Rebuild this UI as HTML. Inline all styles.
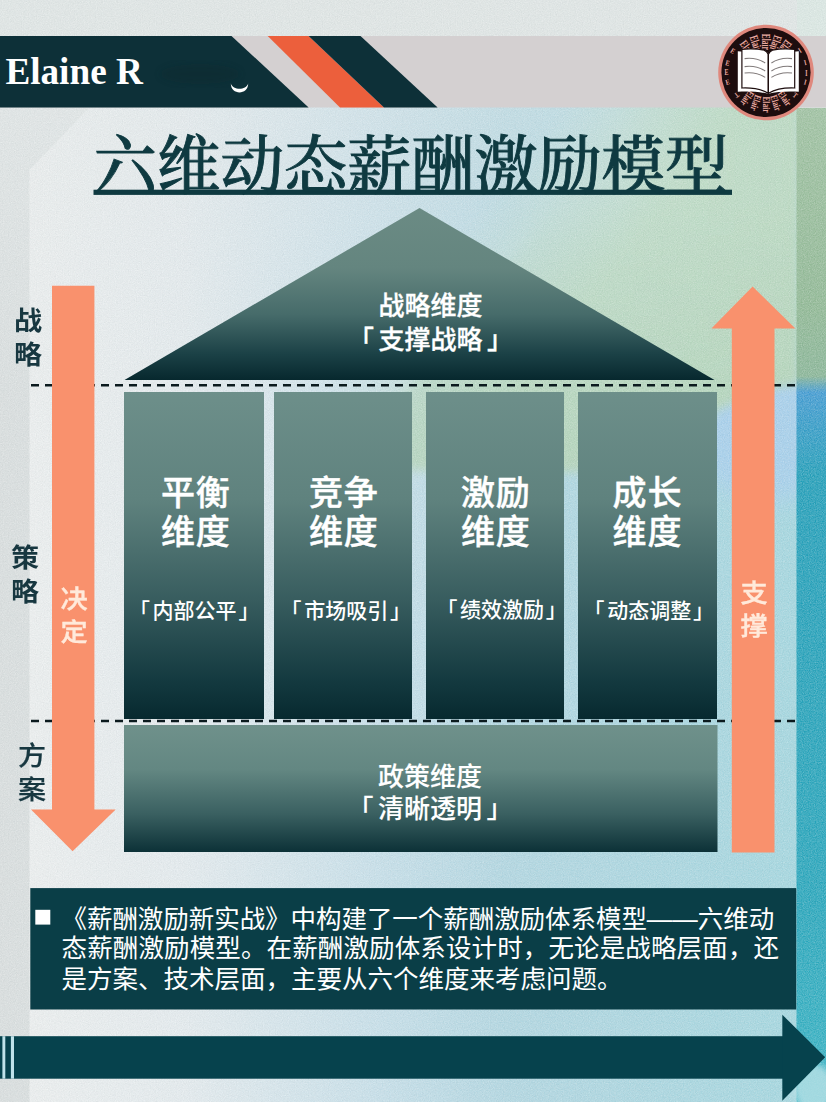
<!DOCTYPE html>
<html lang="zh-CN">
<head>
<meta charset="utf-8">
<title>六维动态薪酬激励模型</title>
<style>
html,body{margin:0;padding:0;}
body{width:826px;height:1102px;overflow:hidden;background:#dde2e2;position:relative;
  font-family:"Liberation Sans","Noto Sans CJK SC",sans-serif;}
#art{position:absolute;left:0;top:0;width:826px;height:1102px;display:block;}
.t{position:absolute;white-space:nowrap;margin:0;padding:0;line-height:1;}
.sans{font-family:"Liberation Sans","Noto Sans CJK SC",sans-serif;}
.serif{font-family:"Liberation Serif","Noto Serif CJK SC",serif;}
#brand{left:5.4px;top:52.6px;font-size:37.2px;font-weight:700;color:#fff;}
#title{left:93.5px;top:134.5px;font-size:63.5px;font-weight:500;color:#0f3a41;-webkit-text-stroke:0.9px #0f3a41;}
.side{transform:scaleX(1.08);font-size:26px;font-weight:700;color:#173740;line-height:34.3px;text-align:center;width:30px;}
.arrowtxt{transform:scaleX(1.08);font-size:25.2px;font-weight:500;-webkit-text-stroke:0.35px #ffeadb;color:#ffeadb;line-height:33.6px;text-align:center;width:30px;}
.big{font-size:34px;letter-spacing:0.8px;font-weight:500;-webkit-text-stroke:0.4px #fff;color:#fff;line-height:39px;text-align:center;width:140px;}
.small{font-size:21px;font-weight:500;color:#fff;text-align:center;}
.mid{font-size:26px;font-weight:500;-webkit-text-stroke:0.3px #fff;color:#fff;line-height:32px;text-align:center;width:200px;}
#para{left:61.5px;top:903px;font-size:25.5px;line-height:30.4px;color:#fff;font-weight:400;white-space:nowrap;}
.bl{letter-spacing:2.6px;}.br{margin-left:1.8px;}
.mid .bl{letter-spacing:4.6px;}.mid .br{margin-left:4.6px;}
</style>
</head>
<body>
<svg id="art" width="826" height="1102" viewBox="0 0 826 1102">
  <defs>
    <linearGradient id="bgH" x1="0" y1="0" x2="1" y2="0">
      <stop offset="0" stop-color="#d9dede"/>
      <stop offset="0.35" stop-color="#dde4e6"/>
      <stop offset="0.7" stop-color="#bfe0e6"/>
      <stop offset="1" stop-color="#a3d8df"/>
    </linearGradient>
    <linearGradient id="panelH" x1="0" y1="0" x2="1" y2="0">
      <stop offset="0" stop-color="#ecefef"/>
      <stop offset="0.2" stop-color="#e4ebee"/>
      <stop offset="0.45" stop-color="#c6dfe9"/>
      <stop offset="0.62" stop-color="#b0d6e1"/>
      <stop offset="1" stop-color="#a2d6df"/>
    </linearGradient>
    <linearGradient id="topFade" x1="0" y1="0" x2="0" y2="1">
      <stop offset="0" stop-color="#e3e8e8" stop-opacity="1"/>
      <stop offset="1" stop-color="#e3e8e8" stop-opacity="0"/>
    </linearGradient>
    <linearGradient id="greenH" gradientUnits="userSpaceOnUse" x1="515" y1="164" x2="625" y2="252">
      <stop offset="0" stop-color="#c6dfd0" stop-opacity="0"/>
      <stop offset="0.5" stop-color="#c4decd" stop-opacity="0.6"/>
      <stop offset="1" stop-color="#bfdcc7" stop-opacity="0.96"/>
    </linearGradient>
    <linearGradient id="greenR" gradientUnits="userSpaceOnUse" x1="620" y1="0" x2="797" y2="0">
      <stop offset="0" stop-color="#b7d8bd" stop-opacity="0"/>
      <stop offset="1" stop-color="#b7d8bd" stop-opacity="0.7"/>
    </linearGradient>
    <linearGradient id="greenV" gradientUnits="userSpaceOnUse" x1="0" y1="200" x2="0" y2="430">
      <stop offset="0" stop-color="#a9ceb0" stop-opacity="0"/>
      <stop offset="1" stop-color="#a9ceb0" stop-opacity="0.55"/>
    </linearGradient>
    <filter id="blur5" x="-20%" y="-20%" width="140%" height="140%"><feGaussianBlur stdDeviation="5"/></filter>
    <linearGradient id="roofG" x1="0" y1="0" x2="0" y2="1">
      <stop offset="0" stop-color="#6b8b84"/>
      <stop offset="0.35" stop-color="#64857f"/>
      <stop offset="0.62" stop-color="#466b6a"/>
      <stop offset="0.85" stop-color="#1b4146"/>
      <stop offset="1" stop-color="#07282e"/>
    </linearGradient>
    <linearGradient id="pillarG" x1="0" y1="0" x2="0" y2="1">
      <stop offset="0" stop-color="#6d8f8a"/>
      <stop offset="0.33" stop-color="#5f827e"/>
      <stop offset="0.64" stop-color="#375c5e"/>
      <stop offset="0.88" stop-color="#143a40"/>
      <stop offset="1" stop-color="#07292f"/>
    </linearGradient>
    <linearGradient id="baseG" x1="0" y1="0" x2="0" y2="1">
      <stop offset="0" stop-color="#6f918b"/>
      <stop offset="0.35" stop-color="#638782"/>
      <stop offset="0.7" stop-color="#3a6061"/>
      <stop offset="1" stop-color="#0c3137"/>
    </linearGradient>
    <linearGradient id="stripG" x1="0" y1="0" x2="0" y2="1">
      <stop offset="0" stop-color="#9ec1a0"/>
      <stop offset="0.2" stop-color="#8fb893"/>
      <stop offset="0.270" stop-color="#88b596"/>
      <stop offset="0.286" stop-color="#3f9ad2"/>
      <stop offset="0.37" stop-color="#1e9db8"/>
      <stop offset="0.8" stop-color="#24a5bb"/>
      <stop offset="1" stop-color="#35b3c4"/>
    </linearGradient>
    <filter id="grain" x="0" y="0" width="100%" height="100%">
      <feTurbulence type="fractalNoise" baseFrequency="0.85" numOctaves="2" seed="7" result="n"/>
      <feColorMatrix type="matrix" values="0 0 0 0 1  0 0 0 0 1  0 0 0 0 1  0.9 0.9 0.9 0 -0.95"/>
    </filter>
    <filter id="grainD" x="0" y="0" width="100%" height="100%">
      <feTurbulence type="fractalNoise" baseFrequency="0.85" numOctaves="2" seed="11" result="n"/>
      <feColorMatrix type="matrix" values="0 0 0 0 0.2  0 0 0 0 0.25  0 0 0 0 0.27  0.9 0.9 0.9 0 -0.95"/>
    </filter>
    <filter id="blur1" x="-30%" y="-30%" width="160%" height="160%"><feGaussianBlur stdDeviation="0.6"/></filter>
    <filter id="blur12" x="-20%" y="-20%" width="140%" height="140%"><feGaussianBlur stdDeviation="12"/></filter>
    <filter id="blur3" x="-20%" y="-20%" width="140%" height="140%"><feGaussianBlur stdDeviation="3"/></filter>
  </defs>

  <!-- outer background -->
  <rect x="0" y="0" width="826" height="1102" fill="url(#bgH)"/>
  <rect x="0" y="0" width="826" height="400" fill="url(#topFade)"/>
  <!-- main panel with cut corner -->
  <polygon points="29.5,170 90,107 797,107 797,1102 29.5,1102" fill="url(#panelH)"/>
  <polygon points="29.5,170 90,107 797,107 797,460 29.5,460" fill="url(#topFade)" opacity="0.3"/>
  <!-- green wash top-right -->
  <ellipse cx="775" cy="425" rx="95" ry="75" fill="#a6cdf0" opacity="0.75" filter="url(#blur12)"/>
  <g filter="url(#blur5)">
    <path d="M300,100 L800,100 L800,384 C775,386 750,396 718,410 C690,440 640,472 560,473 C500,474 440,471 380,470 L300,470 Z" fill="url(#greenH)"/>
    <path d="M600,100 L800,100 L800,384 C775,386 750,396 718,410 C690,436 650,462 600,470 Z" fill="url(#greenR)"/>
    <path d="M560,200 L800,200 L800,384 C775,386 750,396 718,410 C690,440 640,472 560,473 C500,474 440,471 400,470 L400,400 Z" fill="url(#greenV)"/>
  </g>
  <rect x="0" y="0" width="826" height="36" fill="#e0e6e5"/>
  <rect x="797" y="0" width="29" height="108" fill="#dbe8e3"/>

  <!-- right strip -->
  <rect x="796.5" y="108" width="29.5" height="994" fill="url(#stripG)"/>

  <!-- grain texture -->
  <rect x="0" y="0" width="826" height="1102" filter="url(#grain)" opacity="0.30"/>
  <rect x="0" y="0" width="826" height="1102" filter="url(#grainD)" opacity="0.10"/>

  <!-- header band -->
  <rect x="0" y="36" width="826" height="71.5" fill="#d4d0d1"/>
  <polygon points="0,36 231.5,36 308.6,107.5 0,107.5" fill="#0d3038"/>
  <polygon points="267.7,36 308.6,36 384,107.5 340,107.5" fill="#ec5f3c"/>
  <polygon points="308.6,36 360.5,36 437.6,107.5 384,107.5" fill="#0d3038"/>
  <ellipse cx="200" cy="74" rx="40" ry="10" fill="#0a252b" opacity="0.3" filter="url(#blur3)"/>
  <path d="M230.8,83.5 C231,95.4 248,95.4 248.2,83.5 C246,90.6 233,90.6 230.8,83.5 Z" fill="#ffffff" filter="url(#blur1)"/>

  <!-- title underline -->
  <rect x="93.5" y="189.7" width="638.5" height="5.2" fill="#0f3a41"/>

  <!-- roof -->
  <polygon points="419.5,208 714.5,380 124.5,380" fill="url(#roofG)"/>

  <!-- pillars -->
  <rect x="124" y="392" width="140" height="327" fill="url(#pillarG)"/>
  <rect x="274" y="392" width="138" height="327" fill="url(#pillarG)"/>
  <rect x="426" y="392" width="138" height="327" fill="url(#pillarG)"/>
  <rect x="578" y="392" width="139" height="327" fill="url(#pillarG)"/>

  <!-- base -->
  <rect x="124" y="725" width="593.5" height="127" fill="url(#baseG)"/>

  <!-- dashed lines -->
  <line x1="31" y1="385.3" x2="796" y2="385.3" stroke="#0b1a1e" stroke-width="2.4" stroke-dasharray="8 6"/>
  <line x1="31" y1="721" x2="796" y2="721" stroke="#0b1a1e" stroke-width="2.4" stroke-dasharray="8 6"/>

  <!-- arrows -->
  <polygon points="52,285.7 94.4,285.7 94.4,809.4 115.7,809.4 72.6,851.3 31,809.4 52,809.4" fill="#f9916d"/>
  <polygon points="752.6,286.5 795.4,328.4 774.5,328.4 774.5,852.5 731.8,852.5 731.8,328.4 711.4,328.4" fill="#f9916d"/>

  <!-- text box -->
  <rect x="30.3" y="888.1" width="765.9" height="121.4" fill="#0a3e47"/>
  <rect x="35.3" y="909.8" width="15" height="14.8" fill="#ffffff"/>

  <!-- bottom arrow bar -->
  <ellipse cx="814" cy="1088" rx="20" ry="24" fill="#b9e2e7" opacity="0.8" filter="url(#blur3)"/>
  <rect x="0" y="1036.2" width="790" height="42.5" fill="#06424d"/>
  <polygon points="782.3,1014.7 825.2,1057.2 782.3,1100.7" fill="#06424d"/>
  <rect x="2.4" y="1036.2" width="2.9" height="42.5" fill="#bfe2ea"/>
  <rect x="10.9" y="1036.2" width="3.1" height="42.5" fill="#bfe2ea"/>

  <!-- logo -->
  <g id="logo">
    <circle cx="766" cy="72.5" r="47.8" fill="#df887d"/>
    <circle cx="766" cy="72.5" r="44.6" fill="#1d0d0e"/>
    <g font-family="&quot;Liberation Serif&quot;, serif" font-size="12" font-weight="700" fill="#ebaaa0"><text transform="rotate(-37 766 72.5) translate(761.8 33.7) rotate(90) scale(0.62 1)">Elair</text><text transform="rotate(-18.8 766 72.5) translate(761.8 33.7) rotate(90) scale(0.62 1)">Elair</text><text transform="rotate(0 766 72.5) translate(761.8 33.7) rotate(90) scale(0.62 1)">Elair</text><text transform="rotate(18.8 766 72.5) translate(761.8 33.7) rotate(90) scale(0.62 1)">Elair</text><text transform="rotate(37 766 72.5) translate(761.8 33.7) rotate(90) scale(0.62 1)">Elair</text><text transform="rotate(36 766 72.5) translate(762.6 96.4) rotate(90) scale(0.62 0.82)">Elair</text><text transform="rotate(18.2 766 72.5) translate(762.6 96.4) rotate(90) scale(0.62 0.82)">Elair</text><text transform="rotate(0 766 72.5) translate(762.6 96.4) rotate(90) scale(0.62 0.82)">Elair</text><text transform="rotate(-18.2 766 72.5) translate(762.6 96.4) rotate(90) scale(0.62 0.82)">Elair</text><text transform="rotate(-36 766 72.5) translate(762.6 96.4) rotate(90) scale(0.62 0.82)">Elair</text><g font-size="7.5"><text transform="rotate(-57 766 72.5) translate(763.4 31.0) rotate(90) scale(0.8 1)">E</text><text transform="rotate(-76 766 72.5) translate(763.4 31.0) rotate(90) scale(0.8 1)">E</text><text transform="rotate(-90 766 72.5) translate(763.4 31.0) rotate(90) scale(0.8 1)">E</text><text transform="rotate(-104 766 72.5) translate(763.4 31.0) rotate(90) scale(0.8 1)">E</text><text transform="rotate(57 766 72.5) translate(763.4 31.0) rotate(90) scale(0.8 1)">I</text><text transform="rotate(76 766 72.5) translate(763.4 31.0) rotate(90) scale(0.8 1)">I</text><text transform="rotate(90 766 72.5) translate(763.4 31.0) rotate(90) scale(0.8 1)">I</text><text transform="rotate(104 766 72.5) translate(763.4 31.0) rotate(90) scale(0.8 1)">I</text><text transform="rotate(-52 766 72.5) translate(763.4 107.5) rotate(90) scale(0.8 1)">T</text><text transform="rotate(52 766 72.5) translate(763.4 107.5) rotate(90) scale(0.8 1)">T</text></g></g>
    <path d="M737.8,51.2 L768.2,54 L798.8,51.2 L798.8,91.8 C788,91.2 777,91.6 768.2,93.8 C759,91.6 748,91.2 737.8,91.8 Z" fill="#ffffff"/>
    <path d="M741.9,49.3 C750,48.6 758,48.9 764.1,50.1 C766.2,50.8 767.4,52.3 768.2,54.4 L768.2,93.2 C760,88.6 751,87.6 741.9,88 Z" fill="#ffffff" stroke="#1d0d0e" stroke-width="1.2"/>
    <path d="M794.7,49.3 C786.6,48.6 778.6,48.9 772.5,50.1 C770.4,50.8 769.2,52.3 768.4,54.4 L768.4,93.2 C776.6,88.6 785.6,87.6 794.7,88 Z" fill="#ffffff" stroke="#1d0d0e" stroke-width="1.2"/>
    <g fill="none" stroke="#807a7a" stroke-width="1.1"><path d="M744.6,58.6 C752,57.7 759,58.9 765.2,63.0"/><path d="M792,58.6 C784.6,57.7 777.6,58.9 771.4,63.0"/><path d="M744.6,66.6 C752,65.69999999999999 759,66.89999999999999 765.2,71.0"/><path d="M792,66.6 C784.6,65.69999999999999 777.6,66.89999999999999 771.4,71.0"/><path d="M744.6,73.0 C752,72.1 759,73.3 765.2,77.4"/><path d="M792,73.0 C784.6,72.1 777.6,73.3 771.4,77.4"/></g>
  </g>
</svg>

<div class="t serif" id="brand">Elaine R</div>
<div class="t serif" id="title">六维动态薪酬激励模型</div>

<div class="t side" style="left:13px;top:303.8px;">战<br>略</div>
<div class="t side" style="left:9.8px;top:541px;">策<br>略</div>
<div class="t side" style="left:17px;top:739.2px;font-weight:500;-webkit-text-stroke:0.2px #173740;">方<br>案</div>

<div class="t arrowtxt" style="left:58.6px;top:582.8px;">决<br>定</div>
<div class="t arrowtxt" style="left:738.5px;top:576.8px;">支<br>撑</div>

<div class="t mid" style="left:330.5px;top:289px;line-height:34px;">战略维度<br><span class="bl">「</span>支撑战略<span class="br">」</span></div>
<div class="t mid" style="left:330px;top:761.3px;-webkit-text-stroke:0.1px #fff;">政策维度<br><span class="bl">「</span>清晰透明<span class="br">」</span></div>

<div class="t big" style="left:125.80000000000001px;top:473.6px;">平衡<br>维度</div>
<div class="t big" style="left:273.79999999999995px;top:473.6px;">竞争<br>维度</div>
<div class="t big" style="left:425.79999999999995px;top:473.6px;">激励<br>维度</div>
<div class="t big" style="left:577.4px;top:473.6px;">成长<br>维度</div>

<div class="t small" style="left:128.2px;top:600.3px;width:132px;"><span class="bl">「</span>内部公平<span class="br">」</span></div>
<div class="t small" style="left:279.8px;top:600.3px;width:132px;"><span class="bl">「</span>市场吸引<span class="br">」</span></div>
<div class="t small" style="left:435.6px;top:599.3px;width:132px;"><span class="bl">「</span>绩效激励<span class="br">」</span></div>
<div class="t small" style="left:582.8px;top:600.3px;width:132px;"><span class="bl">「</span>动态调整<span class="br">」</span></div>

<div class="t sans" id="para"><span style="position:relative;top:1.2px;letter-spacing:-0.05px;">《薪酬激励新实战》中构建了一个薪酬激励体系模型——六维动</span><br><span style="letter-spacing:0.13px;">态薪酬激励模型。在薪酬激励体系设计时，无论是战略层面，还</span><br>是方案、技术层面，主要从六个维度来考虑问题。</div>
</body>
</html>
